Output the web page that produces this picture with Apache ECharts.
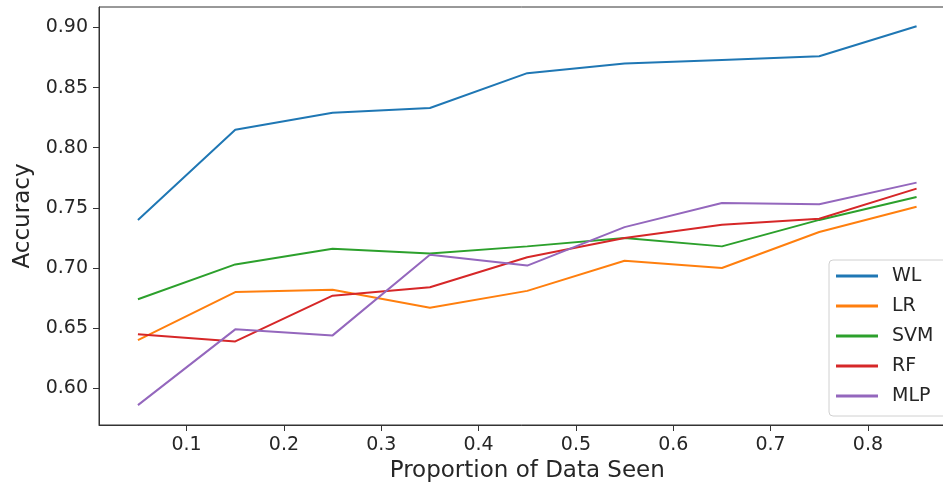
<!DOCTYPE html>
<html>
<head>
<meta charset="utf-8">
<script src="https://cdn.jsdelivr.net/npm/echarts@6/dist/echarts.min.js"></script>
<style>
  html, body { margin: 0; padding: 0; background: #fff; }
  #chart { width: 943px; height: 487px; }
</style>
</head>
<body>
<div id="chart"></div>
<script>
// proportion of data seen
const proportions = [0.05, 0.15, 0.25, 0.35, 0.45, 0.55, 0.65, 0.75, 0.85]

// accuracy per model
const wl  = [0.740, 0.815, 0.829, 0.833, 0.862, 0.870, 0.873, 0.876, 0.901]
const lr  = [0.640, 0.680, 0.682, 0.667, 0.681, 0.706, 0.700, 0.730, 0.751]
const svm = [0.674, 0.703, 0.716, 0.712, 0.718, 0.725, 0.718, 0.740, 0.759]
const rf  = [0.645, 0.639, 0.677, 0.684, 0.709, 0.725, 0.736, 0.741, 0.766]
const mlp = [0.586, 0.649, 0.644, 0.711, 0.702, 0.734, 0.754, 0.753, 0.771]

const modelNames = ['WL', 'LR', 'SVM', 'RF', 'MLP']
const modelValues = [wl, lr, svm, rf, mlp]

const xTicks = [0.1, 0.2, 0.3, 0.4, 0.5, 0.6, 0.7, 0.8]
const yTicks = [0.60, 0.65, 0.70, 0.75, 0.80, 0.85, 0.90]

const colors = ['#1f77b4', '#ff7f0e', '#2ca02c', '#d62728', '#9467bd']
const font = 'DejaVu Sans'
const ink = '#262626'

const chart = echarts.init(document.getElementById('chart'))

const series = modelNames.map((name, i) => ({
  name,
  type: 'line',
  data: proportions.map((p, j) => [p, modelValues[i][j]]),
  symbol: 'none',
  lineStyle: { color: colors[i], width: 2 },
  itemStyle: { color: colors[i] },
  animation: false
}))

chart.setOption({
  animation: false,
  grid: {
    // the figure is cropped: the right border of the axes sits past the canvas edge
    left: 99,
    top: 7,
    width: 856.5,
    height: 418,
    outerBoundsMode: 'none',
    show: true,
    borderColor: '#333',
    borderWidth: 1,
    backgroundColor: 'transparent'
  },
  legend: {
    orient: 'vertical',
    left: 829,
    top: 260,
    data: modelNames,
    icon: 'rect',
    itemWidth: 42,
    itemHeight: 3,
    itemGap: 10,
    padding: [6, 30, 10, 7],
    backgroundColor: 'rgba(255,255,255,0.8)',
    borderColor: '#d0d0d0',
    borderWidth: 1,
    borderRadius: 4,
    textStyle: {
      fontFamily: font,
      fontSize: 19,
      lineHeight: 20,
      color: ink,
      padding: [0, 0, 0, 9]
    }
  },
  xAxis: {
    type: 'value',
    min: 0.01,
    max: 0.89,
    name: 'Proportion of Data Seen',
    nameLocation: 'middle',
    nameGap: 34,
    nameTextStyle: { fontFamily: font, fontSize: 23, color: ink },
    axisLine: { show: true, lineStyle: { color: '#333', width: 1 } },
    axisTick: { show: true, inside: false, length: 6, customValues: xTicks, lineStyle: { color: '#333' } },
    axisLabel: {
      customValues: xTicks,
      margin: 11,
      fontFamily: font,
      fontSize: 19,
      color: ink,
      formatter: v => v.toFixed(1)
    },
    splitLine: { show: false }
  },
  yAxis: {
    type: 'value',
    min: 0.5695,
    max: 0.917,
    name: 'Accuracy',
    nameLocation: 'middle',
    nameGap: 60,
    nameTextStyle: { fontFamily: font, fontSize: 23, color: ink },
    axisLine: { show: true, lineStyle: { color: '#333', width: 1 } },
    axisTick: { show: true, inside: false, length: 6, customValues: yTicks, lineStyle: { color: '#333' } },
    axisLabel: {
      customValues: yTicks,
      margin: 11,
      fontFamily: font,
      fontSize: 19,
      color: ink,
      formatter: v => v.toFixed(2)
    },
    splitLine: { show: false }
  },
  series
})
</script>
</body>
</html>
